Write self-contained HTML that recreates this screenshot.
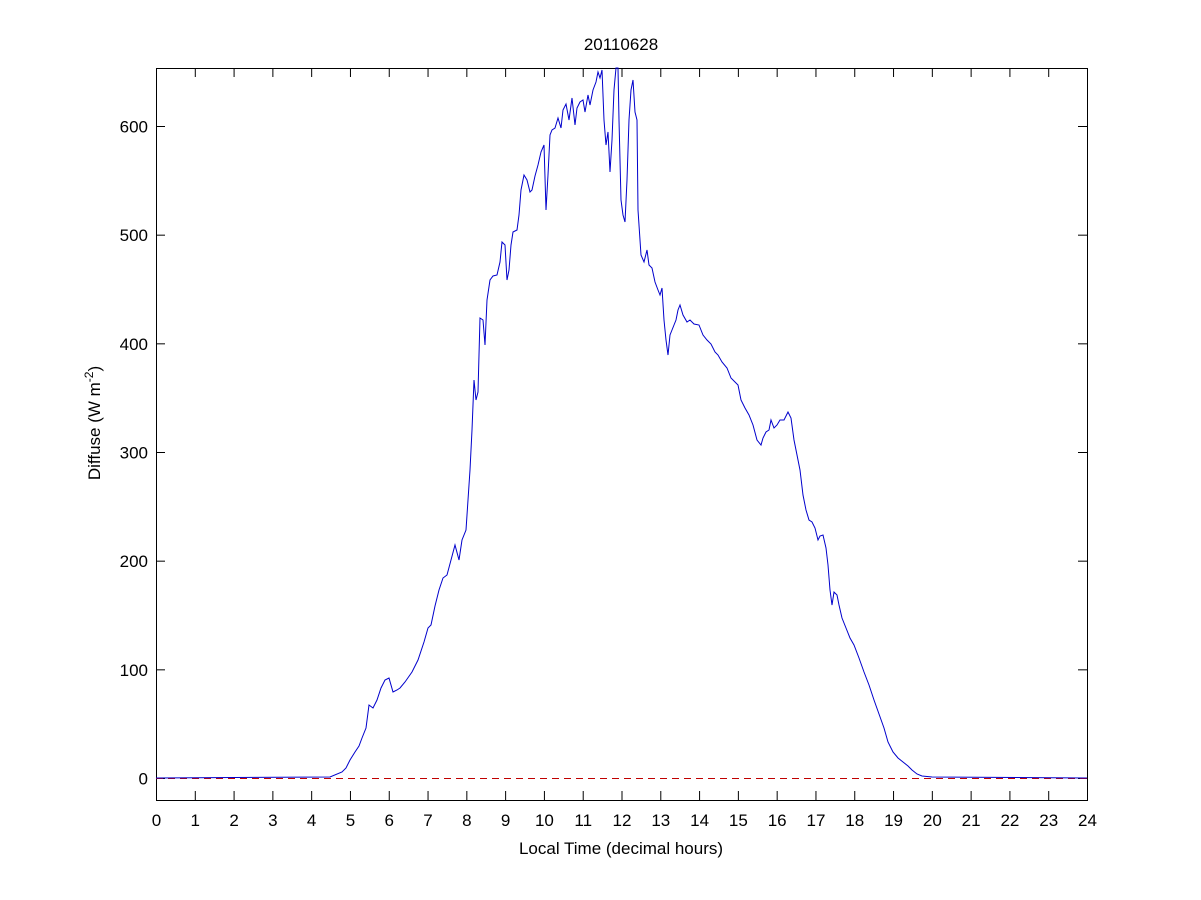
<!DOCTYPE html>
<html><head><meta charset="utf-8"><style>body{margin:0;background:#fff}svg{display:block}text{font-family:"Liberation Sans",sans-serif;font-size:17px;fill:#000}</style></head>
<body>
<svg width="1201" height="900" xmlns="http://www.w3.org/2000/svg">
<rect width="1201" height="900" fill="#fff"/>
<text x="621" y="50" text-anchor="middle">20110628</text>
<g stroke="#000" stroke-width="1" fill="none">
<rect x="156.5" y="68.5" width="931" height="732"/>
<g id="xt"></g><g id="yt"></g>
</g>
<g id="xl" text-anchor="middle"></g>
<g id="yl" text-anchor="end"></g>
<line x1="156" y1="778.5" x2="1087" y2="778.5" stroke="#c00000" stroke-dasharray="7,5"/>
<polyline fill="none" stroke="#0000cc" stroke-width="1" points="156,778 330,777 342,772 346,768 350,760 355,752 359,746 362,738 366,728 369,705 373,708 377,700 381,688 385,680 389,678 393,692 397,690 400,688 405,682 412,672 418,660 424,642 428,628 431,625 435,606 439,590 443,578 447,575 451,560 455,545 459,560 462,540 466,530 468,500 470,470 472,430 474,380 476,400 478,392 480,318 483,320 485,345 487,300 490,280 493,276 497,275 500,262 502,242 505,245 507,280 509,270 511,245 513,232 517,230 519,215 521,190 524,175 527,180 530,192 532,190 535,176 538,165 541,152 544,145 546,210 548,175 550,135 552,130 555,128 558,118 561,128 563,110 566,104 569,120 572,98 575,125 577,108 580,102 583,100 585,112 588,95 590,105 593,90 596,82 598,72 600,78 602,70 604,120 606,145 608,132 610,172 612,140 614,90 616,68 618,68 619,120 621,200 623,215 625,222 627,180 629,120 631,90 633,80 635,112 637,120 638,210 641,255 644,262 647,250 649,265 652,268 655,282 658,290 660,295 662,288 664,320 666,340 668,355 670,335 672,330 674,325 676,320 678,310 680,305 683,315 687,322 690,320 694,324 699,325 703,335 707,340 711,344 715,352 718,355 722,362 727,368 731,378 735,382 738,385 741,400 745,408 749,415 753,425 757,440 761,445 763,438 766,432 769,430 771,420 774,428 777,425 780,420 784,420 788,412 791,418 794,440 797,455 800,470 803,495 806,510 809,520 812,522 815,528 818,540 820,536 823,535 826,548 828,565 830,590 832,605 834,592 837,595 839,605 842,618 846,628 850,638 854,645 859,658 864,672 869,685 874,700 879,714 884,728 888,742 893,752 898,758 903,762 908,766 912,770 917,774 922,776 932,777 1087,778"/>
<text x="621" y="854" text-anchor="middle">Local Time (decimal hours)</text>
<text transform="translate(100,423) rotate(-90)" text-anchor="middle">Diffuse (W m<tspan dy="-7" font-size="12">-2</tspan><tspan dy="7">)</tspan></text>
<script>
var ns="http://www.w3.org/2000/svg";
function el(p,t,a,txt){var e=document.createElementNS(ns,t);for(var k in a)e.setAttribute(k,a[k]);if(txt!=null)e.textContent=txt;document.getElementById(p).appendChild(e);}
for(var h=0;h<=24;h++){var x=156.5+h*931/24;
el("xt","line",{x1:x,y1:800,x2:x,y2:791});el("xt","line",{x1:x,y1:68,x2:x,y2:77});
el("xl","text",{x:x,y:826},h);}
for(var v=0;v<=600;v+=100){var y=778.5-v*652/600;
el("yt","line",{x1:156,y1:y,x2:165,y2:y});el("yt","line",{x1:1087,y1:y,x2:1078,y2:y});
el("yl","text",{x:148,y:y+6},v);}
</script>
</svg>
</body></html>
